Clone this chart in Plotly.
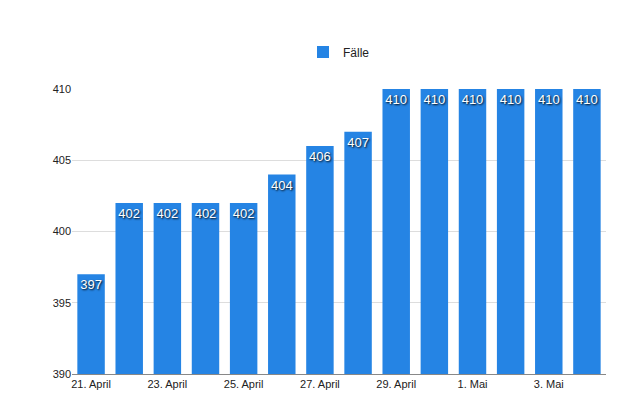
import plotly.graph_objects as go

days = ["21. April", "22. April", "23. April", "24. April", "25. April", "26. April",
        "27. April", "28. April", "29. April", "30. April", "1. Mai", "2. Mai",
        "3. Mai", "4. Mai"]
faelle = [397, 402, 402, 402, 402, 404, 406, 407, 410, 410, 410, 410, 410, 410]
tick_labels = days[::2]

fig = go.Figure(go.Bar(
    x=days, y=faelle, name="Fälle",
    marker=dict(color="#2584e4", line=dict(width=0)),
    text=[str(v) for v in faelle], textposition="inside", textangle=0,
    insidetextanchor="end",
    textfont=dict(color="white", size=13, shadow="1px 1px 2px #000"),
    cliponaxis=False,
))
fig.update_layout(
    width=640, height=408, margin=dict(l=64, r=42, t=81, b=42),
    paper_bgcolor="white", plot_bgcolor="white",
    font=dict(family="Liberation Sans, Arial", size=11, color="#222"),
    bargap=0.28, showlegend=True,
    legend=dict(orientation="h", x=0.5, xanchor="center", y=1.13, yanchor="middle",
                font=dict(size=12)),
    uniformtext=dict(minsize=13, mode="show"),
)
fig.update_xaxes(tickvals=tick_labels, ticktext=tick_labels, showline=True,
                 linecolor="#888", ticks="", tickfont=dict(size=11))
fig.update_yaxes(range=[390, 410], dtick=5, gridcolor="#dddddd", zeroline=False,
                 ticks="", tickfont=dict(size=11))
fig.write_html("out.html")
